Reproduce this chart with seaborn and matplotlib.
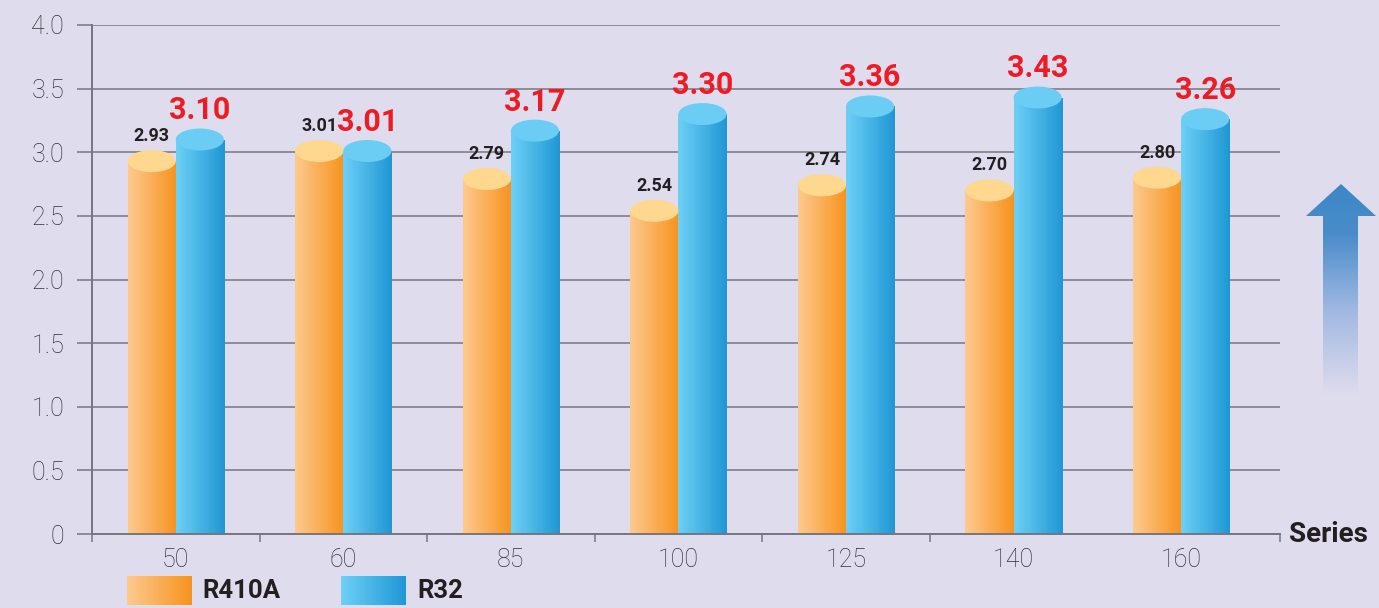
"""COP comparison, R410A vs R32 — cylinder style bars."""
import matplotlib
matplotlib.use("Agg")
import matplotlib.pyplot as plt
from matplotlib.colors import LinearSegmentedColormap
from matplotlib.patches import Ellipse, Polygon
import numpy as np
import pandas as pd
import seaborn as sns

# ── data ──────────────────────────────────────────────────────────────────────
categories = ["50", "60", "85", "100", "125", "140", "160"]
series     = ["R410A", "R32"]
r410a      = [2.93, 3.01, 2.79, 2.54, 2.74, 2.70, 2.80]
r32        = [3.10, 3.01, 3.17, 3.30, 3.36, 3.43, 3.26]
yticks     = [0, 0.5, 1.0, 1.5, 2.0, 2.5, 3.0, 3.5, 4.0]
ytick_lbls = ["0", "0.5", "1.0", "1.5", "2.0", "2.5", "3.0", "3.5", "4.0"]

BG    = "#dfdcee"
GRID  = "#77757f"
TICKC = "#333333"
GRAD  = {"R410A": ("#fdca8f", "#f7931d"), "R32": ("#6ed0f6", "#1f97d5")}
TOPS  = {"R410A": "#fed88f", "R32": "#6bcdf4"}
LABEL = {"R410A": dict(color="#231f20", fontsize=13, fontweight="bold"),
         "R32":   dict(color="#ed1c24", fontsize=22, fontweight="bold")}

df = pd.DataFrame({
    "size":  categories * 2,
    "fluid": [series[0]] * len(categories) + [series[1]] * len(categories),
    "cop":   r410a + r32,
})

sns.set_theme(style="white")
plt.rcParams["font.family"] = ["Roboto", "DejaVu Sans"]

fig = plt.figure(figsize=(13.79, 6.08), dpi=100, facecolor=BG)
ax = fig.add_axes([92 / 1379, 74 / 608, (1280 - 92) / 1379, (534 - 25) / 608])
ax.set_facecolor(BG)

sns.barplot(data=df, x="size", y="cop", hue="fluid", order=categories,
            hue_order=series, width=0.574, saturation=1, legend=False, ax=ax)

grad = np.linspace(0, 1, 256).reshape(1, -1)
ell_h = 0.173
for fluid, cont in zip(series, ax.containers):
    cmap = LinearSegmentedColormap.from_list(fluid, GRAD[fluid])
    for bar in cont:
        x, w, h = bar.get_x(), bar.get_width(), bar.get_height()
        bar.set_facecolor("none"); bar.set_edgecolor("none")
        im = ax.imshow(grad, cmap=cmap, aspect="auto", extent=[x, x + w, 0, h],
                       zorder=2, interpolation="bicubic")
        im.set_clip_path(bar)
        ax.add_patch(Ellipse((x + w / 2, h), w, ell_h, facecolor=TOPS[fluid],
                             edgecolor="none", zorder=3))
        ax.annotate(f"{h:.2f}", (x + w / 2, h + ell_h / 2), xytext=(0, 6.5),
                    textcoords="offset points", ha="center", va="baseline",
                    zorder=4, **LABEL[fluid])

# axis runs a little past the last group, as in the original layout
x_right = len(categories) - 0.41
ax.set_xlim(-0.5, x_right)
ax.set_ylim(0, 4.0)
ax.set_xlabel(""); ax.set_ylabel("")

ax.set_yticks(yticks)
ax.set_yticklabels(ytick_lbls, fontsize=18, fontweight="light", color=TICKC)
ax.yaxis.grid(True, color=GRID, linewidth=1.1)
ax.set_axisbelow(True)
ax.tick_params(axis="y", length=11, width=1.1, color=GRID, pad=9, left=True)

ax.set_xticks(range(len(categories)))
ax.set_xticklabels(categories, fontsize=18, fontweight="light", color=TICKC)
minor = list(np.arange(-0.5, len(categories) - 2)) + [x_right]
ax.set_xticks(minor, minor=True)
ax.tick_params(axis="x", which="major", length=0, pad=10)
ax.tick_params(axis="x", which="minor", length=6, width=1.1, color=GRID,
               bottom=True)

for side in ("top", "right"):
    ax.spines[side].set_visible(False)
for side in ("left", "bottom"):
    ax.spines[side].set_color(GRID)
    ax.spines[side].set_linewidth(1.4)

fig.text(1289 / 1379, 1 - 534 / 608, "Series", fontsize=20, fontweight="bold",
         color="#231f20", va="center", ha="left")

# ── legend ────────────────────────────────────────────────────────────────────
for fluid, lx, tx in zip(series, [127, 341], [202, 417]):
    lax = fig.add_axes([lx / 1379, 3 / 608, 65 / 1379, 29 / 608])
    lax.imshow(grad, cmap=LinearSegmentedColormap.from_list(fluid, GRAD[fluid]),
               aspect="auto", interpolation="bicubic")
    lax.axis("off")
    fig.text(tx / 1379, 1 - 591 / 608, fluid, fontsize=18.5, fontweight="bold",
             color="#231f20", va="center", ha="left")

# ── gradient arrow ────────────────────────────────────────────────────────────
aax = fig.add_axes([1300 / 1379, 213 / 608, 80 / 1379, 215 / 608])
aax.axis("off")
arrow = Polygon([(1341, 184), (1376, 216), (1358, 216), (1358, 395),
                 (1323, 395), (1323, 216), (1306, 216)], closed=True,
                facecolor="none", edgecolor="none")
aax.add_patch(arrow)
acmap = LinearSegmentedColormap.from_list(
    "arrow", [(0, "#3a87c7"), (0.25, "#4a8cca"), (0.6, "#9fb8e0"), (1, BG)])
vgrad = np.linspace(0, 1, 256).reshape(-1, 1)
aim = aax.imshow(vgrad, cmap=acmap, aspect="auto",
                 extent=[1300, 1380, 395, 180], origin="upper")
aim.set_clip_path(arrow)
aax.set_xlim(1300, 1380); aax.set_ylim(395, 180)

fig.savefig("out.png", dpi=100, facecolor=BG)
